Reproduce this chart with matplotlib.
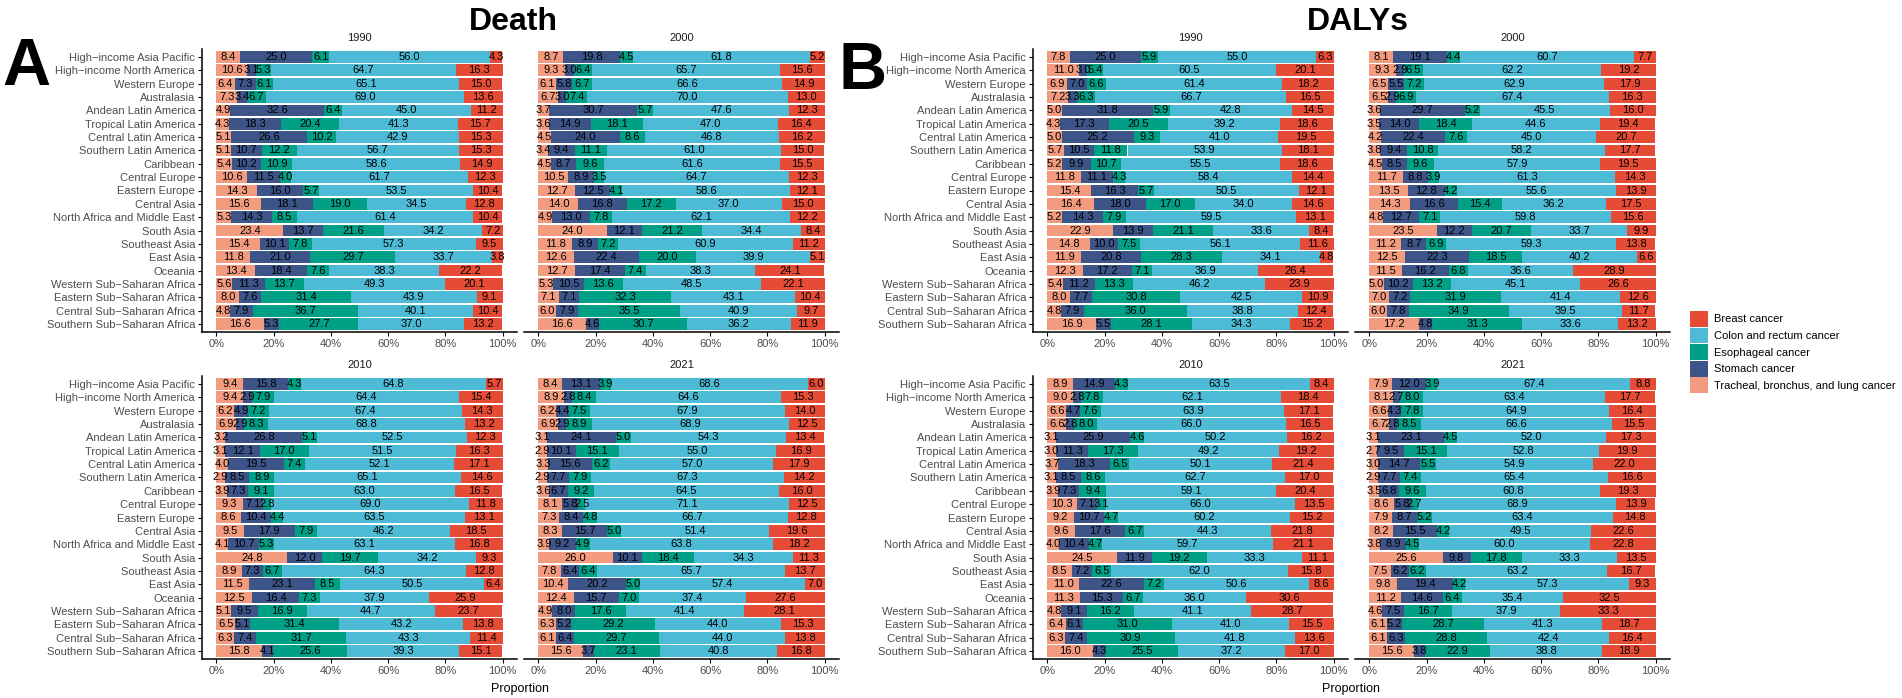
import matplotlib.pyplot as plt
from matplotlib.patches import Patch

plt.rcParams['font.family'] = ['Liberation Sans', 'DejaVu Sans']

regions = [
    "High\u2212income Asia Pacific", "High\u2212income North America", "Western Europe",
    "Australasia", "Andean Latin America", "Tropical Latin America",
    "Central Latin America", "Southern Latin America", "Caribbean",
    "Central Europe", "Eastern Europe", "Central Asia",
    "North Africa and Middle East", "South Asia", "Southeast Asia", "East Asia",
    "Oceania", "Western Sub\u2212Saharan Africa", "Eastern Sub\u2212Saharan Africa",
    "Central Sub\u2212Saharan Africa", "Southern Sub\u2212Saharan Africa",
]

# stacking order, left to right
causes = ["Tracheal, bronchus, and lung cancer", "Stomach cancer",
          "Esophageal cancer", "Colon and rectum cancer", "Breast cancer"]
colors = ["#F39B7F", "#3C5488", "#00A087", "#4DBBD5", "#E64B35"]
legend_order = [4, 3, 2, 1, 0]

# each row: tracheal, stomach, esophageal, colon, breast (%)
death_1990 = [
    (8.4, 25.0, 6.1, 56.0, 4.3), (10.6, 3.1, 5.3, 64.7, 16.3), (6.4, 7.3, 6.1, 65.1, 15.0),
    (7.3, 3.4, 6.7, 69.0, 13.6), (4.9, 32.6, 6.4, 45.0, 11.2), (4.3, 18.3, 20.4, 41.3, 15.7),
    (5.1, 26.6, 10.2, 42.9, 15.3), (5.1, 10.7, 12.2, 56.7, 15.3), (5.4, 10.2, 10.9, 58.6, 14.9),
    (10.6, 11.5, 4.0, 61.7, 12.3), (14.3, 16.0, 5.7, 53.5, 10.4), (15.6, 18.1, 19.0, 34.5, 12.8),
    (5.3, 14.3, 8.5, 61.4, 10.4), (23.4, 13.7, 21.6, 34.2, 7.2), (15.4, 10.1, 7.8, 57.3, 9.5),
    (11.8, 21.0, 29.7, 33.7, 3.8), (13.4, 18.4, 7.6, 38.3, 22.2), (5.6, 11.3, 13.7, 49.3, 20.1),
    (8.0, 7.6, 31.4, 43.9, 9.1), (4.8, 7.9, 36.7, 40.1, 10.4), (16.6, 5.3, 27.7, 37.0, 13.2),
]
death_2000 = [
    (8.7, 19.8, 4.5, 61.8, 5.2), (9.3, 3.0, 6.4, 65.7, 15.6), (6.1, 5.8, 6.7, 66.6, 14.9),
    (6.7, 3.0, 7.4, 70.0, 13.0), (3.7, 30.7, 5.7, 47.6, 12.3), (3.6, 14.9, 18.1, 47.0, 16.4),
    (4.5, 24.0, 8.6, 46.8, 16.2), (3.4, 9.4, 11.1, 61.0, 15.0), (4.5, 8.7, 9.6, 61.6, 15.5),
    (10.5, 8.9, 3.5, 64.7, 12.3), (12.7, 12.5, 4.1, 58.6, 12.1), (14.0, 16.8, 17.2, 37.0, 15.0),
    (4.9, 13.0, 7.8, 62.1, 12.2), (24.0, 12.1, 21.2, 34.4, 8.4), (11.8, 8.9, 7.2, 60.9, 11.2),
    (12.6, 22.4, 20.0, 39.9, 5.1), (12.7, 17.4, 7.4, 38.3, 24.1), (5.3, 10.5, 13.6, 48.5, 22.1),
    (7.1, 7.1, 32.3, 43.1, 10.4), (6.0, 7.9, 35.5, 40.9, 9.7), (16.6, 4.6, 30.7, 36.2, 11.9),
]
death_2010 = [
    (9.4, 15.8, 4.3, 64.8, 5.7), (9.4, 2.9, 7.9, 64.4, 15.4), (6.2, 4.9, 7.2, 67.4, 14.3),
    (6.9, 2.9, 8.3, 68.8, 13.2), (3.2, 26.8, 5.1, 52.5, 12.3), (3.1, 12.1, 17.0, 51.5, 16.3),
    (4.0, 19.5, 7.4, 52.1, 17.1), (2.9, 8.5, 8.9, 65.1, 14.6), (3.9, 7.3, 9.1, 63.0, 16.5),
    (9.3, 7.1, 2.8, 69.0, 11.8), (8.6, 10.4, 4.4, 63.5, 13.1), (9.5, 17.9, 7.9, 46.2, 18.5),
    (4.1, 10.7, 5.3, 63.1, 16.8), (24.8, 12.0, 19.7, 34.2, 9.3), (8.9, 7.3, 6.7, 64.3, 12.8),
    (11.5, 23.1, 8.5, 50.5, 6.4), (12.5, 16.4, 7.3, 37.9, 25.9), (5.1, 9.5, 16.9, 44.7, 23.7),
    (6.5, 5.1, 31.4, 43.2, 13.8), (6.3, 7.4, 31.7, 43.3, 11.4), (15.8, 4.1, 25.6, 39.3, 15.1),
]
death_2021 = [
    (8.4, 13.1, 3.9, 68.6, 6.0), (8.9, 2.8, 8.4, 64.6, 15.3), (6.2, 4.4, 7.5, 67.9, 14.0),
    (6.9, 2.9, 8.9, 68.9, 12.5), (3.1, 24.1, 5.0, 54.3, 13.4), (2.9, 10.1, 15.1, 55.0, 16.9),
    (3.3, 15.6, 6.2, 57.0, 17.9), (2.9, 7.7, 7.9, 67.3, 14.2), (3.6, 6.7, 9.2, 64.5, 16.0),
    (8.1, 5.8, 2.5, 71.1, 12.5), (7.3, 8.4, 4.8, 66.7, 12.8), (8.3, 15.7, 5.0, 51.4, 19.6),
    (3.9, 9.2, 4.9, 63.8, 18.2), (26.0, 10.1, 18.4, 34.3, 11.3), (7.8, 6.4, 6.4, 65.7, 13.7),
    (10.4, 20.2, 5.0, 57.4, 7.0), (12.4, 15.7, 7.0, 37.4, 27.6), (4.9, 8.0, 17.6, 41.4, 28.1),
    (6.3, 5.2, 29.2, 44.0, 15.3), (6.1, 6.4, 29.7, 44.0, 13.8), (15.6, 3.7, 23.1, 40.8, 16.8),
]
dalys_1990 = [
    (7.8, 25.0, 5.9, 55.0, 6.3), (11.0, 3.0, 5.4, 60.5, 20.1), (6.9, 7.0, 6.6, 61.4, 18.2),
    (7.2, 3.3, 6.3, 66.7, 16.5), (5.0, 31.8, 5.9, 42.8, 14.5), (4.3, 17.3, 20.5, 39.2, 18.6),
    (5.0, 25.2, 9.3, 41.0, 19.5), (5.7, 10.5, 11.8, 53.9, 18.1), (5.2, 9.9, 10.7, 55.5, 18.6),
    (11.8, 11.1, 4.3, 58.4, 14.4), (15.4, 16.3, 5.7, 50.5, 12.1), (16.4, 18.0, 17.0, 34.0, 14.6),
    (5.2, 14.3, 7.9, 59.5, 13.1), (22.9, 13.9, 21.1, 33.6, 8.4), (14.8, 10.0, 7.5, 56.1, 11.6),
    (11.9, 20.8, 28.3, 34.1, 4.8), (12.3, 17.2, 7.1, 36.9, 26.4), (5.4, 11.2, 13.3, 46.2, 23.9),
    (8.0, 7.7, 30.8, 42.5, 10.9), (4.8, 7.9, 36.0, 38.8, 12.4), (16.9, 5.5, 28.1, 34.3, 15.2),
]
dalys_2000 = [
    (8.1, 19.1, 4.4, 60.7, 7.7), (9.3, 2.9, 6.5, 62.2, 19.2), (6.5, 5.5, 7.2, 62.9, 17.9),
    (6.5, 2.9, 6.9, 67.4, 16.3), (3.6, 29.7, 5.2, 45.5, 16.0), (3.5, 14.0, 18.4, 44.6, 19.4),
    (4.2, 22.4, 7.6, 45.0, 20.7), (3.8, 9.4, 10.8, 58.2, 17.7), (4.5, 8.5, 9.6, 57.9, 19.5),
    (11.7, 8.8, 3.9, 61.3, 14.3), (13.5, 12.8, 4.2, 55.6, 13.9), (14.3, 16.6, 15.4, 36.2, 17.5),
    (4.8, 12.7, 7.1, 59.8, 15.6), (23.5, 12.2, 20.7, 33.7, 9.9), (11.2, 8.7, 6.9, 59.3, 13.8),
    (12.5, 22.3, 18.5, 40.2, 6.6), (11.5, 16.2, 6.8, 36.6, 28.9), (5.0, 10.2, 13.2, 45.1, 26.6),
    (7.0, 7.2, 31.9, 41.4, 12.6), (6.0, 7.8, 34.9, 39.5, 11.7), (17.2, 4.8, 31.3, 33.6, 13.2),
]
dalys_2010 = [
    (8.9, 14.9, 4.3, 63.5, 8.4), (9.0, 2.8, 7.8, 62.1, 18.4), (6.6, 4.7, 7.6, 63.9, 17.1),
    (6.6, 2.8, 8.0, 66.0, 16.5), (3.1, 25.9, 4.6, 50.2, 16.2), (3.0, 11.3, 17.3, 49.2, 19.2),
    (3.7, 18.3, 6.5, 50.1, 21.4), (3.1, 8.5, 8.6, 62.7, 17.0), (3.9, 7.3, 9.4, 59.1, 20.4),
    (10.3, 7.1, 3.1, 66.0, 13.5), (9.2, 10.7, 4.7, 60.2, 15.2), (9.6, 17.6, 6.7, 44.3, 21.8),
    (4.0, 10.4, 4.7, 59.7, 21.1), (24.5, 11.9, 19.2, 33.3, 11.1), (8.5, 7.2, 6.5, 62.0, 15.8),
    (11.0, 22.6, 7.2, 50.6, 8.6), (11.3, 15.3, 6.7, 36.0, 30.6), (4.8, 9.1, 16.2, 41.1, 28.7),
    (6.4, 6.1, 31.0, 41.0, 15.5), (6.3, 7.4, 30.9, 41.8, 13.6), (16.0, 4.3, 25.5, 37.2, 17.0),
]
dalys_2021 = [
    (7.9, 12.0, 3.9, 67.4, 8.8), (8.1, 2.7, 8.0, 63.4, 17.7), (6.6, 4.3, 7.8, 64.9, 16.4),
    (6.7, 2.8, 8.5, 66.6, 15.5), (3.1, 23.1, 4.5, 52.0, 17.3), (2.7, 9.5, 15.1, 52.8, 19.9),
    (3.0, 14.7, 5.5, 54.9, 22.0), (2.9, 7.7, 7.4, 65.4, 16.6), (3.5, 6.8, 9.6, 60.8, 19.3),
    (8.6, 5.8, 2.7, 68.9, 13.9), (7.9, 8.7, 5.2, 63.4, 14.8), (8.2, 15.5, 4.2, 49.5, 22.6),
    (3.8, 8.9, 4.5, 60.0, 22.8), (25.6, 9.8, 17.8, 33.3, 13.5), (7.5, 6.2, 6.2, 63.2, 16.7),
    (9.8, 19.4, 4.2, 57.3, 9.3), (11.2, 14.6, 6.4, 35.4, 32.5), (4.6, 7.5, 16.7, 37.9, 33.3),
    (6.1, 5.2, 28.7, 41.3, 18.7), (6.1, 6.3, 28.8, 42.4, 16.4), (15.6, 3.8, 22.9, 38.8, 18.9),
]

W, H = 1902, 698
fig = plt.figure(figsize=(W / 100, H / 100), dpi=100)

title_font = ['Liberation Sans Narrow', 'Liberation Sans', 'DejaVu Sans']


def add_panel(box, data, year, show_y):
    """Draw one stacked bar facet into a pixel box (left, top, right, bottom)."""
    left, top, right, bottom = box
    ax = fig.add_axes([left / W, 1 - bottom / H, (right - left) / W, (bottom - top) / H])
    ypos = list(range(len(regions)))
    starts = [0.0] * len(regions)
    for j in range(len(causes)):
        vals = [row[j] for row in data]
        ax.barh(ypos, vals, left=starts, height=0.88, color=colors[j], linewidth=0)
        for i, v in enumerate(vals):
            ax.text(starts[i] + v / 2, i, f"{v:.1f}", ha='center', va='center',
                    fontsize=8, color='black')
        starts = [s + v for s, v in zip(starts, vals)]

    ax.set_xlim(-5, 105)
    ax.set_ylim(len(regions) - 0.4, -0.6)
    ax.set_xticks([0, 20, 40, 60, 80, 100])
    ax.set_xticklabels(["0%", "20%", "40%", "60%", "80%", "100%"])
    ax.tick_params(axis='x', length=3, width=0.8, labelsize=8, labelcolor='#4D4D4D', pad=2)
    for side in ['top', 'right']:
        ax.spines[side].set_visible(False)
    ax.spines['bottom'].set_linewidth(1.1)
    if show_y:
        ax.set_yticks(ypos)
        ax.set_yticklabels(regions)
        ax.tick_params(axis='y', length=3, width=0.8, labelsize=8, labelcolor='#4D4D4D', pad=2)
        ax.spines['left'].set_linewidth(1.1)
    else:
        ax.set_yticks([])
        ax.spines['left'].set_visible(False)
    fig.text((left + right) / 2 / W, 1 - (top - 11) / H, year, ha='center', va='center',
             fontsize=8, color='#1A1A1A')
    return ax


cols_death = [(202, 517), (524, 839)]
cols_dalys = [(1033, 1348), (1355, 1670)]
rows = [(49, 332), (376, 659)]

panels = [
    (cols_death[0], rows[0], death_1990, "1990", True),
    (cols_death[1], rows[0], death_2000, "2000", False),
    (cols_death[0], rows[1], death_2010, "2010", True),
    (cols_death[1], rows[1], death_2021, "2021", False),
    (cols_dalys[0], rows[0], dalys_1990, "1990", True),
    (cols_dalys[1], rows[0], dalys_2000, "2000", False),
    (cols_dalys[0], rows[1], dalys_2010, "2010", True),
    (cols_dalys[1], rows[1], dalys_2021, "2021", False),
]
for (x0, x1), (y0, y1), data, year, show_y in panels:
    add_panel((x0, y0, x1, y1), data, year, show_y)

# x labels under each group
fig.text(520 / W, 1 - 689 / H, "Proportion", ha='center', va='center', fontsize=9)
fig.text(1351 / W, 1 - 689 / H, "Proportion", ha='center', va='center', fontsize=9)

# big titles and panel letters
fig.text(513 / W, 1 - 22 / H, "Death", ha='center', va='center', fontsize=23,
         fontweight='bold', family=title_font)
fig.text(1358 / W, 1 - 22 / H, "DALYs", ha='center', va='center', fontsize=23,
         fontweight='bold', family=title_font)
fig.text(26 / W, 1 - 68 / H, "A", ha='center', va='center', fontsize=48,
         fontweight='bold', family=title_font)
fig.text(863 / W, 1 - 72 / H, "B", ha='center', va='center', fontsize=48,
         fontweight='bold', family=title_font)

handles = [Patch(facecolor=colors[k], edgecolor='none', label=causes[k]) for k in legend_order]
fig.legend(handles=handles, loc='upper left', bbox_to_anchor=(1690 / W, 1 - 311 / H),
           frameon=False, fontsize=8, handlelength=1.6, handleheight=1.8,
           labelspacing=0.08, handletextpad=0.6, borderpad=0, borderaxespad=0)

fig.savefig("out.png", dpi=100)
